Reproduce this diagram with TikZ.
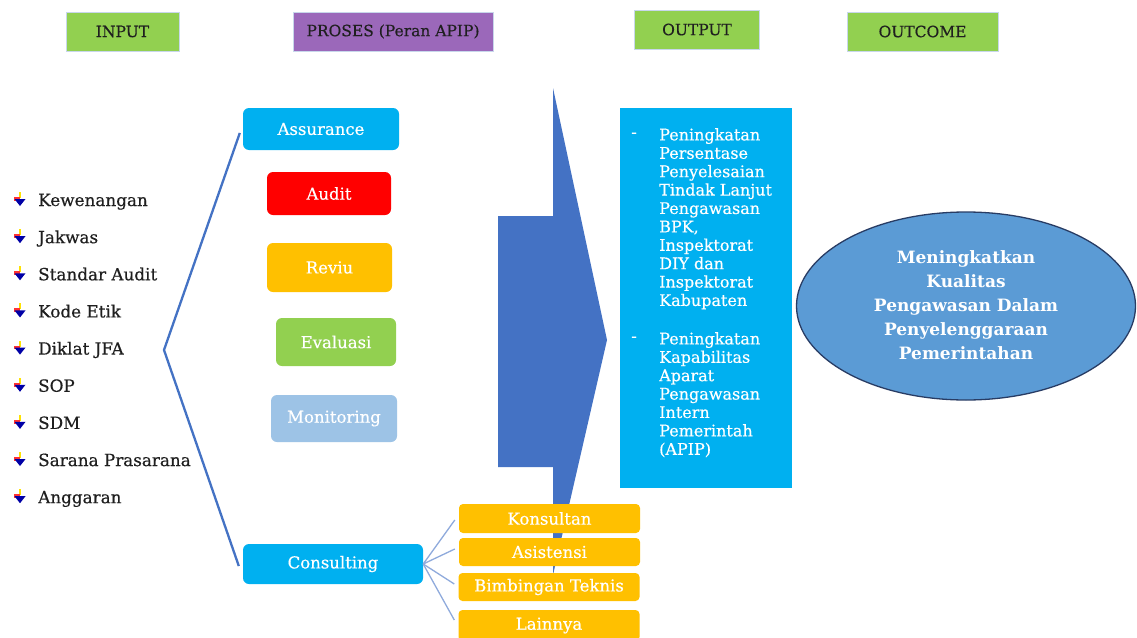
\documentclass[tikz,border=0pt]{standalone}
\usepackage{fontspec}
\setmainfont{DejaVu Serif}
\newfontfamily\heavyfam{DejaVu Serif}[FakeBold=0.45]
\usetikzlibrary{shapes.geometric}
\definecolor{cyanbox}{RGB}{0,176,240}
\definecolor{redbox}{RGB}{255,0,0}
\definecolor{orangebox}{RGB}{255,192,0}
\definecolor{greenbox}{RGB}{146,208,80}
\definecolor{lightbox}{RGB}{157,195,230}
\definecolor{arrowblue}{RGB}{68,114,196}
\definecolor{ellfill}{RGB}{91,155,213}
\definecolor{ellline}{RGB}{40,60,100}
\definecolor{purplebox}{RGB}{155,104,186}
\definecolor{fanline}{RGB}{143,170,220}
\definecolor{hdrline}{RGB}{200,215,235}
\newcommand\hdrfont{\heavyfam\fontsize{15.5}{18}\selectfont}
\newcommand\boxfont{\heavyfam\fontsize{16.5}{19}\selectfont}
\newcommand\lstfont{\heavyfam\fontsize{16.8}{19}\selectfont}
\newcommand\outfont{\heavyfam\fontsize{16}{18.4}\selectfont}
\newcommand\ellfont{\fontsize{17}{24}\selectfont\bfseries}
\tikzset{
  bul/.pic={
    \fill[yellow!85!orange] (-1.3,-7) rectangle (1.3,-1);
    \fill[red!80] (-6.5,-2) rectangle (0,1.8);
    \fill[blue!65!black] (-5.5,0) -- (5.5,0) -- (0,7) -- cycle;
  },
  hdr/.style={draw=hdrline, line width=0.6pt, minimum height=39pt, inner sep=0pt, font=\hdrfont, text=black!88},
  rbox/.style={rounded corners=6pt, inner sep=0pt, text=white, font=\boxfont},
  sbox/.style={rbox, fill=orangebox, minimum width=181pt, rounded corners=4pt},
  lst/.style={anchor=base west, inner sep=0pt, font=\lstfont, text=black!88},
  outtxt/.style={anchor=north west, inner sep=0pt, font=\outfont, text=white, align=left},
  brk/.style={draw=arrowblue, line width=2.3pt},
  fan/.style={draw=fanline, line width=1.3pt}
}
\begin{document}
\begin{tikzpicture}[x=1pt,y=-1pt]
\useasboundingbox (0,0) rectangle (1137,637);
\fill[white] (0,0) rectangle (1137,637);

% headers
\node[hdr, fill=greenbox, minimum width=113pt] (hin) at (122.5,31.5) {INPUT};
\node[hdr, fill=purplebox, minimum width=200pt] (hpro) at (393,31.5) {PROSES (Peran APIP)};
\node[hdr, fill=greenbox, minimum width=125pt] (hout) at (697,29.5) {OUTPUT};
\node[hdr, fill=greenbox, minimum width=151pt] (hoc) at (922.5,31.5) {OUTCOME};

% big arrow
\fill[arrowblue] (498,216) -- (553,216) -- (553,88) -- (607,340) -- (553,575) -- (553,467) -- (498,467) -- cycle;

% input list
\foreach \t [count=\i from 0] in {Kewenangan,Jakwas,Standar Audit,Kode Etik,Diklat JFA,SOP,SDM,Sarana Prasarana,Anggaran}{
  \pgfmathsetmacro\yy{206+37.15*\i}
  \pic at (20,\yy-7) {bul};
  \node[lst] (in\i) at (38,\yy) {\t};
}

% process boxes
\node[rbox, fill=cyanbox, minimum width=156pt, minimum height=42pt] (assurance) at (321,129) {Assurance};
\node[rbox, fill=redbox, minimum width=124pt, minimum height=43pt] (audit) at (329,193.5) {Audit};
\node[rbox, fill=orangebox, minimum width=125pt, minimum height=49pt] (reviu) at (329.5,267.5) {Reviu};
\node[rbox, fill=greenbox, minimum width=120pt, minimum height=48pt] (evaluasi) at (336,342) {Evaluasi};
\node[rbox, fill=lightbox, minimum width=126pt, minimum height=47pt] (monitoring) at (334,418.5) {Monitoring};
\node[rbox, fill=cyanbox, minimum width=180pt, minimum height=40pt] (consulting) at (333,564) {Consulting};

% consulting sub-boxes
\node[sbox, minimum height=29pt] (konsultan) at (549.5,518.5) {Konsultan};
\node[sbox, minimum height=28pt] (asistensi) at (549.5,552) {Asistensi};
\node[sbox, minimum height=28pt] (bimtek) at (549,587) {Bimbingan Teknis};
\node[sbox, minimum height=31pt] (lainnya) at (549,625.5) {Lainnya};

% bracket
\coordinate (vtx) at (164,350);
\draw[brk] ([xshift=-3pt,yshift=-4pt]assurance.west) -- (vtx) -- ([xshift=-4pt,yshift=-2pt]consulting.west);

% fan
\foreach \b/\dy in {konsultan/-1.5,asistensi/3,bimtek/3,lainnya/5.5}{
  \draw[fan] (consulting.east) -- ([xshift=-4pt,yshift=\dy pt]\b.west);
}

% output box
\node[fill=cyanbox, minimum width=172pt, minimum height=380pt, inner sep=0pt] (output) at (706,298) {};
\node[inner sep=0pt, font=\outfont, text=white] (d1) at (634,135) {-};
\node[inner sep=0pt, font=\outfont, text=white] (d2) at (634,339) {-};
\node[outtxt] (o1) at (659,128) {Peningkatan\\Persentase\\Penyelesaian\\Tindak Lanjut\\Pengawasan\\BPK,\\Inspektorat\\DIY dan\\Inspektorat\\Kabupaten};
\node[outtxt] (o2) at (659,332) {Peningkatan\\Kapabilitas\\Aparat\\Pengawasan\\Intern\\Pemerintah\\(APIP)};

% outcome ellipse
\node[ellipse, fill=ellfill, draw=ellline, line width=1.3pt, minimum width=339pt, minimum height=188pt, inner sep=0pt] (outcome) at (966,306) {};
\node[font=\ellfont, text=white, align=center, inner sep=0pt] (oct) at (966,305) {Meningkatkan\\Kualitas\\Pengawasan Dalam\\Penyelenggaraan\\Pemerintahan};
\end{tikzpicture}
\end{document}
